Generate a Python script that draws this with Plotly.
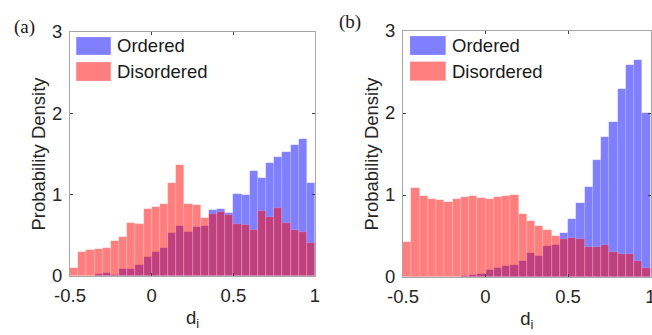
import numpy as np
import plotly.graph_objects as go

# bin edges shared by both panels (width 0.05 from -0.5 to 1)
bin_start = -0.5
bin_width = 0.05
n_bins = 30

# Panel (a)
a_ordered = [0.0, 0.0, 0.0, 0.02, 0.04, 0.01, 0.09, 0.09, 0.14, 0.23,
             0.29, 0.34, 0.53, 0.62, 0.54, 0.60, 0.62, 0.81, 0.82, 0.77,
             1.01, 1.00, 1.29, 1.20, 1.39, 1.46, 1.52, 1.61, 1.69, 1.14]
a_disordered = [0.10, 0.30, 0.32, 0.33, 0.35, 0.43, 0.48, 0.65, 0.64, 0.82,
                0.85, 0.89, 1.14, 1.36, 0.89, 0.87, 0.71, 0.76, 0.79, 0.75,
                0.64, 0.63, 0.57, 0.80, 0.72, 0.84, 0.65, 0.57, 0.54, 0.40]

# Panel (b)
b_ordered = [0.0, 0.0, 0.0, 0.0, 0.0, 0.0, 0.0, 0.01, 0.02, 0.04,
             0.08, 0.11, 0.14, 0.15, 0.19, 0.29, 0.26, 0.38, 0.39, 0.54,
             0.71, 0.90, 1.10, 1.43, 1.71, 1.89, 2.29, 2.58, 2.65, 2.00]
b_disordered = [0.43, 1.09, 0.99, 0.95, 0.94, 0.92, 0.95, 0.98, 0.99, 0.96,
                0.95, 0.98, 0.99, 1.00, 0.77, 0.68, 0.62, 0.57, 0.50, 0.46,
                0.47, 0.46, 0.37, 0.36, 0.39, 0.30, 0.28, 0.28, 0.20, 0.11]

x_ticks = [-0.5, 0, 0.5, 1]
x_tick_text = ["-0.5", "0", "0.5", "1"]
y_ticks = [0, 1, 2, 3]
series_names = ["Ordered", "Disordered"]
panel_labels = ["(a)", "(b)"]

centers = bin_start + bin_width * (np.arange(n_bins) + 0.5)

BLUE = "rgba(0,0,255,0.5)"
RED = "rgba(255,0,0,0.5)"
EDGE = dict(color="rgba(255,255,255,0.28)", width=0.6)
FONT = "Liberation Sans, Arial, sans-serif"
FS = 18.5

fig = go.Figure()

panels = [
    ("x", "y", a_ordered, a_disordered),
    ("x2", "y2", b_ordered, b_disordered),
]
for xa, ya, ordv, disv in panels:
    fig.add_trace(go.Bar(x=centers, y=ordv, width=bin_width, marker=dict(color=BLUE, line=EDGE),
                         name=series_names[0], xaxis=xa, yaxis=ya, showlegend=False))
    fig.add_trace(go.Bar(x=centers, y=disv, width=bin_width, marker=dict(color=RED, line=EDGE),
                         name=series_names[1], xaxis=xa, yaxis=ya, showlegend=False))

axis_common = dict(
    showgrid=False, zeroline=False, showline=True, linecolor="#a6a6a6", linewidth=1,
    mirror="ticks", ticks="inside", ticklen=3, tickcolor="#404040", automargin=False,
    ticklabeloverflow="allow",
    tickfont=dict(family=FONT, size=FS, color="#262626"),
)
title_font = dict(family=FONT, size=FS, color="#262626")

fig.update_layout(
    width=652, height=335,
    margin=dict(l=0, r=0, t=0, b=0),
    paper_bgcolor="white", plot_bgcolor="white",
    barmode="overlay", bargap=0,
    xaxis=dict(domain=[70/652, 315/652], range=[-0.5, 1], tickvals=x_ticks, ticktext=x_tick_text,
               ticklabelstandoff=3,
               title=dict(text="d<sub>i</sub>", font=title_font, standoff=5),
               anchor="y", **axis_common),
    yaxis=dict(domain=[1-276/335, 1-32/335], range=[0, 3], tickvals=y_ticks,
               ticklabelstandoff=3,
               title=dict(text="Probability Density", font=title_font, standoff=1),
               anchor="x", **axis_common),
    xaxis2=dict(domain=[403/652, 650.5/652], range=[-0.5, 1], tickvals=x_ticks, ticktext=x_tick_text,
                ticklabelstandoff=3,
                title=dict(text="d<sub>i</sub>", font=title_font, standoff=5),
                anchor="y2", **axis_common),
    yaxis2=dict(domain=[1-277/335, 1-31/335], range=[0, 3], tickvals=y_ticks,
                ticklabelstandoff=3,
                title=dict(text="Probability Density", font=title_font, standoff=1),
                anchor="x2", **axis_common),
)

# manual legends (MATLAB style wide patches, no box)
legend_specs = [
    ("x domain", "y domain", 0.025, 0.167, 0.184, [(0.906, 0.980), (0.799, 0.877)]),
    ("x2 domain", "y2 domain", 0.028, 0.173, 0.190, [(0.902, 0.980), (0.798, 0.876)]),
]
for xr, yr, x0, x1, xt, rows in legend_specs:
    for (y0, y1), col, name in zip(rows, [BLUE, RED], series_names):
        fig.add_shape(type="rect", xref=xr, yref=yr, x0=x0, x1=x1, y0=y0, y1=y1,
                      fillcolor=col, line=dict(color="rgba(255,255,255,0.4)", width=0.6))
        fig.add_annotation(xref=xr, yref=yr, x=xt, y=(y0 + y1) / 2, text=name, showarrow=False,
                           xanchor="left", yanchor="middle",
                           font=dict(family=FONT, size=FS, color="#1a1a1a"))

# panel labels
for xp, yp, lab in [(12/652, 1-27/335, panel_labels[0]), (337/652, 1-22/335, panel_labels[1])]:
    fig.add_annotation(xref="paper", yref="paper", x=xp, y=yp, text=lab, showarrow=False,
                       xanchor="left", yanchor="middle",
                       font=dict(family="Liberation Serif, Times New Roman, serif", size=19, color="#1a1a1a"))

fig.write_html("out.html")
